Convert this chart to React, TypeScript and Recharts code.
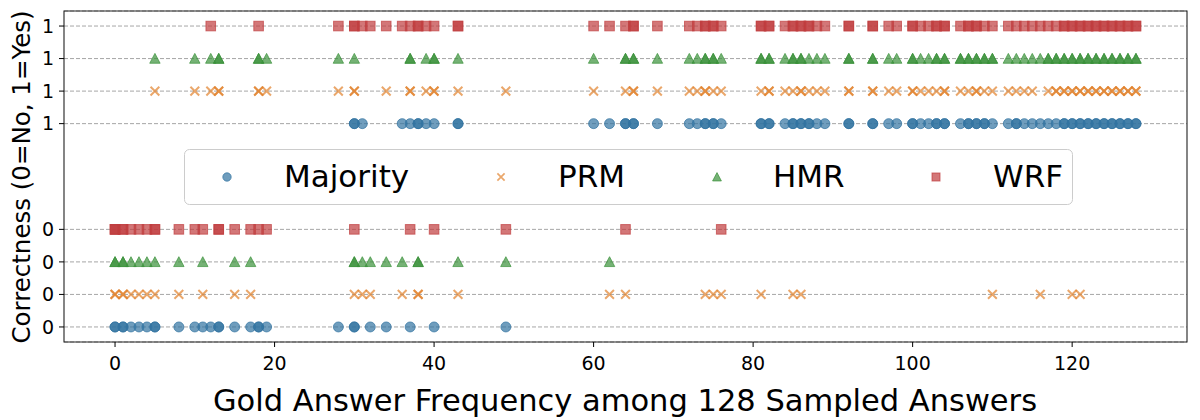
import {
  ScatterChart, Scatter, XAxis, YAxis, CartesianGrid, ReferenceArea, Legend,
} from "recharts";

// Gold-answer frequency (out of 128 samples) per question, split by whether the
// method picked the right answer. Repeated values = several questions at that frequency.
const majorityCorrect = [30, 30, 31, 36, 37, 38, 38, 39, 40, 43, 43, 60, 62, 64, 64, 65, 65, 68, 72, 73, 74, 74, 75, 75, 76, 81, 81, 82, 82, 84, 85, 85, 86, 86, 87, 87, 88, 89, 92, 92, 95, 95, 97, 98, 100, 100, 101, 102, 103, 103, 104, 104, 106, 107, 107, 108, 108, 109, 109, 110, 112, 113, 113, 114, 115, 116, 117, 118, 119, 119, 120, 120, 121, 121, 122, 122, 123, 123, 124, 124, 125, 125, 126, 126, 127, 127, 128, 128];
const majorityWrong = [0, 0, 1, 1, 2, 3, 4, 5, 5, 8, 10, 11, 12, 13, 13, 15, 17, 18, 18, 19, 28, 30, 30, 32, 34, 37, 40, 49];

const prmCorrect = [5, 10, 12, 13, 13, 18, 18, 19, 28, 30, 30, 34, 37, 37, 39, 40, 40, 43, 49, 60, 64, 65, 65, 68, 72, 73, 74, 74, 75, 76, 81, 82, 82, 84, 85, 86, 86, 87, 88, 89, 92, 92, 95, 95, 97, 98, 100, 100, 101, 102, 103, 104, 104, 106, 107, 108, 108, 109, 110, 112, 113, 114, 115, 117, 118, 118, 119, 119, 120, 120, 121, 121, 122, 122, 123, 123, 124, 124, 125, 125, 126, 126, 127, 127, 128, 128];
const prmWrong = [0, 0, 1, 1, 2, 3, 4, 5, 8, 11, 15, 17, 30, 31, 32, 36, 38, 38, 43, 62, 64, 74, 75, 76, 81, 85, 86, 110, 116, 120, 121];

const hmrCorrect = [5, 10, 12, 13, 13, 18, 18, 19, 28, 30, 37, 37, 39, 40, 40, 43, 60, 64, 64, 65, 65, 68, 72, 73, 74, 74, 75, 75, 76, 81, 81, 82, 82, 84, 85, 85, 86, 86, 87, 88, 89, 92, 92, 95, 95, 97, 98, 100, 100, 101, 102, 103, 103, 104, 104, 106, 106, 107, 107, 108, 108, 109, 109, 110, 110, 112, 113, 114, 115, 116, 117, 117, 118, 118, 119, 119, 120, 120, 121, 121, 122, 122, 123, 123, 124, 124, 125, 125, 126, 126, 127, 127, 128, 128];
const hmrWrong = [0, 0, 1, 1, 2, 3, 4, 5, 8, 11, 15, 17, 30, 30, 31, 32, 34, 36, 38, 38, 43, 49, 62];

const wrfCorrect = [12, 18, 28, 30, 30, 31, 32, 34, 36, 37, 38, 38, 39, 40, 43, 43, 60, 62, 64, 65, 65, 68, 72, 73, 74, 74, 75, 75, 76, 81, 81, 82, 82, 84, 85, 85, 86, 86, 87, 87, 88, 89, 92, 92, 95, 95, 97, 98, 100, 100, 101, 102, 103, 103, 104, 104, 106, 107, 107, 108, 108, 109, 110, 112, 113, 114, 115, 116, 117, 118, 119, 119, 120, 120, 121, 121, 122, 122, 123, 123, 124, 124, 125, 125, 126, 126, 127, 127, 128, 128];
const wrfWrong = [0, 0, 0, 1, 1, 2, 3, 4, 5, 5, 8, 10, 11, 13, 13, 15, 17, 18, 19, 30, 37, 40, 49, 64, 76];

const xTicks = [0, 20, 40, 60, 80, 100, 120];

// every method gets its own lane inside the "0" band and inside the "1" band
const wrongLanes = [0, 1, 2, 3];
const correctLanes = [6.25, 7.25, 8.25, 9.25];
const yTicks = [...wrongLanes, ...correctLanes];

const BLUE = "#3274A1";
const ORANGE = "#E1812C";
const GREEN = "#3A923A";
const RED = "#C03D3E";
const ALPHA = 0.7;
const FONT = "'DejaVu Sans', sans-serif";

type Pt = { cx?: number; cy?: number };

const filled = (c: string) => ({
  fill: c, fillOpacity: ALPHA, stroke: c, strokeOpacity: ALPHA, strokeWidth: 1,
});

const drawDot = (c: string, r: number) => (p: Pt) =>
  <circle cx={p.cx} cy={p.cy} r={r} {...filled(c)} />;

const drawCross = (c: string, r: number, w: number) => (p: Pt) => {
  const x = p.cx ?? 0, y = p.cy ?? 0;
  return (
    <path d={`M${x - r},${y - r}L${x + r},${y + r}M${x - r},${y + r}L${x + r},${y - r}`}
      fill="none" stroke={c} strokeOpacity={ALPHA} strokeWidth={w} />
  );
};

const drawTriangle = (c: string, r: number) => (p: Pt) => {
  const x = p.cx ?? 0, y = p.cy ?? 0;
  return <path d={`M${x},${y - r}L${x + r},${y + r * 0.9}L${x - r},${y + r * 0.9}Z`} {...filled(c)} />;
};

const drawSquare = (c: string, r: number) => (p: Pt) =>
  <rect x={(p.cx ?? 0) - r} y={(p.cy ?? 0) - r} width={r * 2} height={r * 2} {...filled(c)} />;

const methods = [
  { name: "Majority", color: BLUE, correct: majorityCorrect, wrong: majorityWrong, shape: drawDot(BLUE, 5), icon: drawDot(BLUE, 4.2) },
  { name: "PRM", color: ORANGE, correct: prmCorrect, wrong: prmWrong, shape: drawCross(ORANGE, 4.4, 2), icon: drawCross(ORANGE, 3.6, 1.7) },
  { name: "HMR", color: GREEN, correct: hmrCorrect, wrong: hmrWrong, shape: drawTriangle(GREEN, 5.2), icon: drawTriangle(GREEN, 4.4) },
  { name: "WRF", color: RED, correct: wrfCorrect, wrong: wrfWrong, shape: drawSquare(RED, 4.8), icon: drawSquare(RED, 4) },
];

const series = methods.map((m, i) => ({
  ...m,
  data: [
    ...m.wrong.map((x) => ({ x, y: wrongLanes[i] })),
    ...m.correct.map((x) => ({ x, y: correctLanes[i] })),
  ],
}));

// legend: boxed single row of four entries
const legendMarkerX = [43, 317, 533, 752];
const legendTextX = [100, 374, 589, 809];

function LegendBox() {
  return (
    <svg width={890} height={56} style={{ display: "block", fontFamily: FONT }}>
      <rect x={0.5} y={0.5} width={888} height={55} rx={5} fill="#fff" fillOpacity={0.8} stroke="#cccccc" />
      {methods.map((m, i) => (
        <g key={m.name}>
          {m.icon({ cx: legendMarkerX[i], cy: 28 })}
          <text x={legendTextX[i]} y={38} fontSize={31} fill="#000">{m.name}</text>
        </g>
      ))}
    </svg>
  );
}

export default function App() {
  return (
    <div style={{ position: "absolute", left: 0, top: 0, width: 1200, height: 420, background: "#fff", fontFamily: FONT }}>
      <ScatterChart width={1200} height={420} margin={{ top: 11, right: 13, bottom: 8, left: 0 }}>
        <CartesianGrid horizontal vertical={false} stroke="#8f8f8f" strokeWidth={0.8} strokeDasharray="4 2" />
        <XAxis
          dataKey="x" type="number" domain={[-6.4, 134.4]} ticks={xTicks} allowDataOverflow
          height={70} axisLine={false} tickSize={5} tickMargin={10}
          tickLine={{ stroke: "#000" }} tick={{ fontSize: 19, fill: "#000" }}
          label={() => (
            <text x={625} y={411} textAnchor="middle" fontSize={30.5} fill="#000">
              Gold Answer Frequency among 128 Sampled Answers
            </text>
          )}
        />
        <YAxis
          dataKey="y" type="number" domain={[-0.4625, 9.7125]} ticks={yTicks} allowDataOverflow
          width={64} axisLine={false} tickSize={5} tickMargin={5}
          tickLine={{ stroke: "#000" }} tick={{ fontSize: 19, fill: "#000" }}
          tickFormatter={(v: number) => (v > 5 ? "1" : "0")}
          label={() => (
            <text transform="translate(30,177) rotate(-90)" textAnchor="middle" fontSize={24.5} fill="#000">
              Correctness (0=No, 1=Yes)
            </text>
          )}
        />
        <ReferenceArea x1={-6.4} x2={134.4} y1={-0.4625} y2={9.7125} fill="none" stroke="#222" strokeWidth={1.1} />
        {series.map((s) => (
          <Scatter key={s.name} name={s.name} data={s.data} fill={s.color} shape={s.shape} isAnimationActive={false} />
        ))}
        <Legend
          layout="horizontal" verticalAlign="middle" align="center"
          wrapperStyle={{ left: 184, top: 149, width: 890, height: 56 }}
          content={() => <LegendBox />}
        />
      </ScatterChart>
    </div>
  );
}
